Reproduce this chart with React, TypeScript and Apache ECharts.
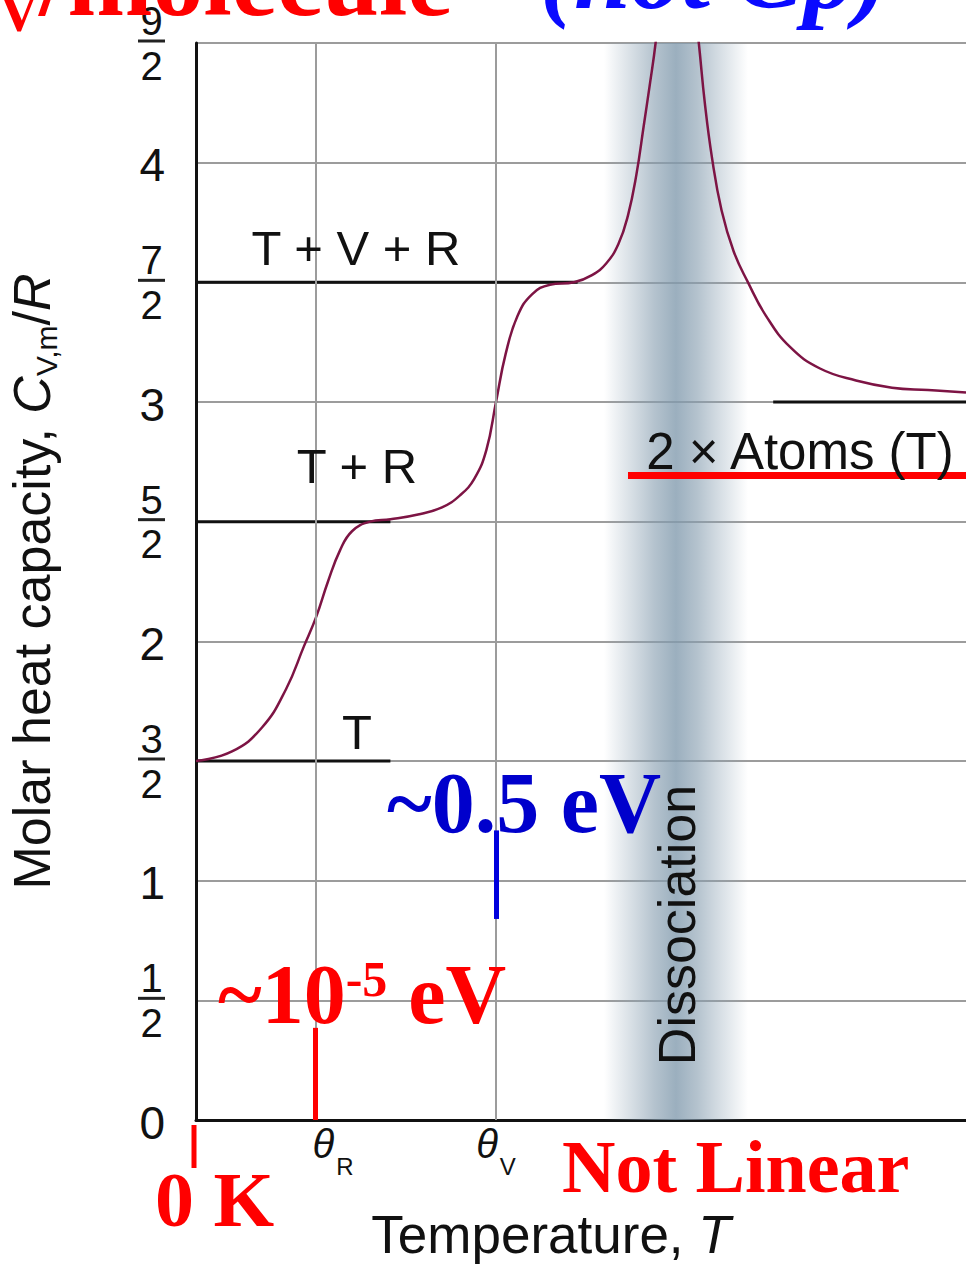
import { useEffect, useRef } from 'react';
import * as echarts from 'echarts';

// ---- data ----
const yTicks = [0, 0.5, 1, 1.5, 2, 2.5, 3, 3.5, 4, 4.5];
const thetaTicks = [1, 2.5];
const thetaSubs = ['R', 'V'];
const xMax = 6.4167;

const curveX = [0, 0.3, 0.55, 0.75, 0.9, 1.0, 1.1, 1.2, 1.3, 1.45, 1.62, 1.85, 2.05, 2.2, 2.32, 2.42, 2.5, 2.58, 2.68, 2.8, 2.95, 3.15, 3.3, 3.42, 3.52, 3.6, 3.67, 3.73, 3.78, 3.83, 3.88, 3.93, 4.08, 4.14, 4.19, 4.24, 4.3, 4.38, 4.48, 4.6, 4.75, 4.95, 5.2, 5.5, 5.8, 6.1, 6.4167];
const curveY = [1.5, 1.54, 1.64, 1.8, 1.98, 2.1, 2.25, 2.38, 2.46, 2.5, 2.51, 2.53, 2.56, 2.61, 2.68, 2.8, 3.0, 3.2, 3.36, 3.45, 3.49, 3.5, 3.53, 3.58, 3.66, 3.78, 3.95, 4.15, 4.32, 4.5, 4.75, 5.05, 5.05, 4.72, 4.5, 4.25, 4.02, 3.8, 3.63, 3.5, 3.36, 3.23, 3.14, 3.09, 3.06, 3.05, 3.04];

const levelNames = ['T', 'T + R', 'T + V + R', '2 × Atoms (T)'];
const levelY = [1.5, 2.5, 3.5, 3.0];
const levelX0 = [0, 0, 0, 4.81];
const levelX1 = [1.62, 1.62, 3.18, xMax];

const bandX = [3.4, 4.6];
const rotTick = { x: 0.99, y0: 0, y1: 0.385 };
const vibTick = { x: 2.5, y0: 0.84, y1: 1.21 };
const atomsUnderline = { y: 2.693, x0: 3.6, x1: xMax };

export default function App() {
  const ref = useRef<HTMLDivElement>(null);
  useEffect(() => {
    const chart = echarts.init(ref.current!, null, { renderer: 'svg' });
    const sans = "'Liberation Sans', Arial, Helvetica, sans-serif";
    const serif = "'Liberation Serif', 'Times New Roman', serif";
    const ink = '#111111';
    const gridGray = '#9c9c9c';

    const txt = (text: string, x: number, y: number, s: any, extra: any = {}) => ({
      type: 'text',
      x,
      y,
      silent: true,
      z: 100,
      ...extra,
      style: {
        text,
        align: 'left',
        textAlign: 'left',
        verticalAlign: 'middle',
        textVerticalAlign: 'middle',
        ...s,
      },
    });
    const sansLabel = (text: string, x: number, y: number, size = 49) =>
      txt(text, x, y, {
        fontFamily: sans,
        fontSize: size,
        fill: ink,
        align: 'center',
        textAlign: 'center',
      });

    const option: any = {
      animation: false,
      backgroundColor: '#ffffff',
      grid: { left: 196, right: 0, top: 43, bottom: 144, containLabel: false, outerBoundsMode: 'none' },
      xAxis: {
        type: 'value',
        min: 0,
        max: xMax,
        axisLine: { show: true, lineStyle: { color: ink, width: 3 } },
        axisTick: { show: false },
        splitLine: { show: false },
        axisLabel: {
          customValues: thetaTicks,
          margin: 4,
          formatter: (v: number) => {
            const i = thetaTicks.indexOf(v);
            const sub = thetaSubs[i] ?? '';
            return (i === 0 ? '{p| }' : '') + '{t|θ}{s|' + sub + '}';
          },
          rich: {
            p: { width: 34, fontSize: 10 },
            t: { fontFamily: sans, fontStyle: 'italic', fontSize: 40, color: ink, lineHeight: 40 },
            s: { fontFamily: sans, fontSize: 24, color: ink, lineHeight: 24, padding: [44, 0, 0, 2] },
          },
        },
        name: '{a|Temperature, }{i|T}',
        nameLocation: 'middle',
        nameGap: 88,
        nameTextStyle: {
          padding: [0, 60, 0, 0],
          rich: {
            a: { fontFamily: sans, fontSize: 53, color: ink, lineHeight: 53 },
            i: { fontFamily: sans, fontSize: 53, fontStyle: 'italic', color: ink, lineHeight: 53 },
          },
        },
      },
      yAxis: {
        type: 'value',
        min: 0,
        max: 4.5,
        interval: 0.5,
        axisLine: { show: true, lineStyle: { color: ink, width: 3 } },
        axisTick: { show: false },
        splitLine: { show: true, lineStyle: { color: gridGray, width: 2 } },
        axisLabel: {
          margin: 31,
          padding: [5, 0, 0, 0],
          customValues: yTicks,
          formatter: (v: number) =>
            Number.isInteger(v) ? `{i|${v}}` : `{n|${Math.round(v * 2)}}\n{b| }\n{d|2}`,
          rich: {
            i: { fontFamily: sans, fontSize: 46, color: ink, lineHeight: 46, align: 'center' },
            n: { fontFamily: sans, fontSize: 40, color: ink, lineHeight: 34, align: 'center' },
            b: { width: 27, height: 3, lineHeight: 6, backgroundColor: '#222222', fontSize: 4, align: 'center' },
            d: { fontFamily: sans, fontSize: 40, color: ink, lineHeight: 43, align: 'center' },
          },
        },
        name: '{a|Molar heat capacity, }{i|C}{s|V,m}{a|/}{i|R}',
        nameLocation: 'middle',
        nameGap: 138,
        nameTextStyle: {
          rich: {
            a: { fontFamily: sans, fontSize: 52, color: ink, lineHeight: 52 },
            i: { fontFamily: sans, fontSize: 52, fontStyle: 'italic', color: ink, lineHeight: 52 },
            s: { fontFamily: sans, fontSize: 30, color: ink, lineHeight: 30, padding: [28, 0, 0, 0] },
          },
        },
      },
      series: [
        {
          type: 'line',
          name: 'band',
          data: [],
          z: 1,
          silent: true,
          markArea: {
            silent: true,
            itemStyle: {
              color: new echarts.graphic.LinearGradient(0, 0, 1, 0, [
                { offset: 0, color: 'rgba(140,162,180,0)' },
                { offset: 0.12, color: 'rgba(140,162,180,0.22)' },
                { offset: 0.35, color: 'rgba(135,158,176,0.62)' },
                { offset: 0.5, color: 'rgba(130,155,174,0.8)' },
                { offset: 0.65, color: 'rgba(135,158,176,0.62)' },
                { offset: 0.88, color: 'rgba(140,162,180,0.22)' },
                { offset: 1, color: 'rgba(140,162,180,0)' },
              ]),
            },
            data: [[{ xAxis: bandX[0] }, { xAxis: bandX[1] }]],
          },
        },
        {
          type: 'line',
          name: 'vgrid',
          data: [],
          z: 1,
          silent: true,
          markLine: {
            silent: true,
            symbol: ['none', 'none'],
            label: { show: false },
            lineStyle: { color: gridGray, width: 2, type: 'solid' },
            data: thetaTicks.map((v) => ({ xAxis: v })),
          },
        },
        ...levelNames.map((n, i) => ({
          type: 'line',
          name: n,
          data: [
            [levelX0[i], levelY[i]],
            [levelX1[i], levelY[i]],
          ],
          symbol: 'none',
          z: 3,
          silent: true,
          lineStyle: { color: ink, width: 3 },
        })),
        {
          type: 'line',
          name: 'Cv',
          data: curveX.map((x, i) => [x, curveY[i]]),
          smooth: 0.45,
          symbol: 'none',
          z: 4,
          silent: true,
          lineStyle: { color: '#7d1444', width: 2.5 },
        },
        {
          type: 'line',
          name: 'annot',
          data: [],
          z: 5,
          silent: true,
          markLine: {
            silent: true,
            symbol: ['none', 'none'],
            label: { show: false },
            data: [
              [
                { coord: [rotTick.x, rotTick.y0], lineStyle: { color: '#ff0000', width: 5, type: 'solid' } },
                { coord: [rotTick.x, rotTick.y1] },
              ],
              [
                { coord: [vibTick.x, vibTick.y0], lineStyle: { color: '#0000dd', width: 5, type: 'solid' } },
                { coord: [vibTick.x, vibTick.y1] },
              ],
              [
                { coord: [atomsUnderline.x0, atomsUnderline.y], lineStyle: { color: '#ff0000', width: 7, type: 'solid' } },
                { coord: [atomsUnderline.x1, atomsUnderline.y] },
              ],
            ],
          },
        },
      ],
      graphic: [
        // cropped title
        txt('{m|C}{s|V}{m|/molecule}', -75, -20, {
          rich: {
            m: { fontFamily: serif, fontWeight: 'bold', fontSize: 102, lineHeight: 102, fill: '#ff0000', color: '#ff0000' },
            s: { fontFamily: serif, fontWeight: 'bold', fontSize: 56, lineHeight: 56, padding: [63, 0, 0, 0], fill: '#ff0000', color: '#ff0000' },
          },
        }),
        txt('(not Cp)', 540, -27, {
          fontFamily: serif,
          fontWeight: 'bold',
          fontStyle: 'italic',
          fontSize: 102,
          fill: '#0a0aff',
        }),
        // level labels
        sansLabel(levelNames[0], 357, 732),
        sansLabel(levelNames[1], 357, 466),
        sansLabel(levelNames[2], 356, 248),
        sansLabel(levelNames[3], 800, 451, 51),
        // dissociation
        txt('Dissociation', 677, 925, {
          fontFamily: sans,
          fontSize: 52,
          fill: ink,
          align: 'center',
          textAlign: 'center',
        }, { rotation: Math.PI / 2 }),
        // annotations
        txt('~0.5 eV', 387, 803, {
          fontFamily: serif,
          fontWeight: 'bold',
          fontSize: 86,
          fill: '#0000cc',
        }),
        txt('{m|~10}{u|-5}{m| eV}', 218, 994, {
          rich: {
            m: { fontFamily: serif, fontWeight: 'bold', fontSize: 84, lineHeight: 84, fill: '#ff0000', color: '#ff0000' },
            u: { fontFamily: serif, fontWeight: 'bold', fontSize: 50, lineHeight: 50, padding: [0, 0, 31, 0], fill: '#ff0000', color: '#ff0000' },
          },
        }),
        txt('0 K', 155, 1199, {
          fontFamily: serif,
          fontWeight: 'bold',
          fontSize: 78,
          fill: '#ff0000',
        }),
        txt('Not Linear', 562, 1167, {
          fontFamily: serif,
          fontWeight: 'bold',
          fontSize: 74,
          fill: '#ff0000',
        }),
        {
          type: 'line',
          silent: true,
          z: 100,
          shape: { x1: 194, y1: 1125, x2: 194, y2: 1168 },
          style: { stroke: '#ff0000', lineWidth: 5 },
        },
      ],
    };

    chart.setOption(option);
    return () => chart.dispose();
  }, []);

  return (
    <div
      ref={ref}
      style={{ position: 'absolute', left: 0, top: 0, width: 966, height: 1264, background: '#ffffff' }}
    />
  );
}
